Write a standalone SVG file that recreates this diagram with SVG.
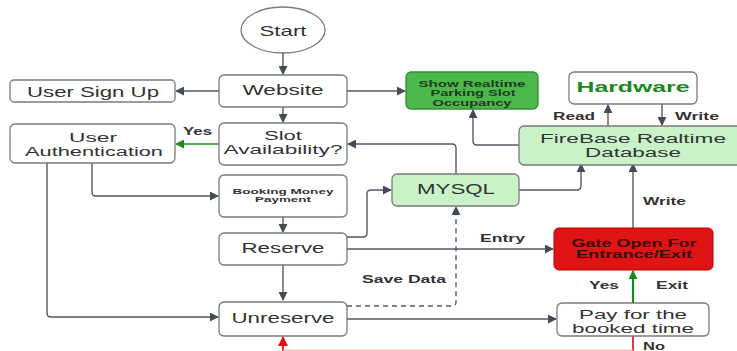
<svg xmlns="http://www.w3.org/2000/svg" width="737" height="351" viewBox="0 0 737 351">
<style>
.box{fill:#fff;stroke:#7a7a7a;stroke-width:1.3}
.lg{fill:#c9f2c9;stroke:#7a7a7a;stroke-width:1.3}
.t{font-family:"Liberation Sans",Arial,sans-serif;fill:#333;text-anchor:middle}
.n{font-size:14.5px}
.m{font-size:12.5px}
.b{font-weight:bold}
.c{fill:none;stroke:#545866;stroke-width:1.4}
.lbl{font-family:"Liberation Sans",Arial,sans-serif;font-weight:bold;font-size:10.5px;fill:#333}
</style>
<defs>
<marker id="a" viewBox="0 0 10 10" refX="9" refY="5" markerWidth="9" markerHeight="9" markerUnits="userSpaceOnUse" orient="auto"><path d="M0,0 L10,5 L0,10 z" fill="#454a58"/></marker>
<marker id="ag" viewBox="0 0 10 10" refX="9" refY="5" markerWidth="9" markerHeight="9" markerUnits="userSpaceOnUse" orient="auto"><path d="M0,0 L10,5 L0,10 z" fill="#1a8a1a"/></marker>
<marker id="ar" viewBox="0 0 10 10" refX="9" refY="5" markerWidth="10" markerHeight="10" markerUnits="userSpaceOnUse" orient="auto"><path d="M0,0 L10,5 L0,10 z" fill="#e01010"/></marker>
</defs>
<rect width="737" height="351" fill="#fff"/>
<g id="connectors">
<path class="c" d="M283,53 V74" marker-end="url(#a)"/>
<path class="c" d="M219,91 H176" marker-end="url(#a)"/>
<path class="c" d="M347,91 H405" marker-end="url(#a)"/>
<path class="c" d="M283,107 V122" marker-end="url(#a)"/>
<path d="M219,144 H176" fill="none" stroke="#1a8a1a" stroke-width="1.6" marker-end="url(#ag)"/>
<path class="c" d="M47,163 V313 Q47,317 51,317 H218" marker-end="url(#a)"/>
<path class="c" d="M92,163 V192 Q92,196 96,196 H218" marker-end="url(#a)"/>
<path class="c" d="M283,217 V232" marker-end="url(#a)"/>
<path class="c" d="M283,265 V300" marker-end="url(#a)"/>
<path class="c" d="M347,237 H363 Q367,237 367,233 V194 Q367,190 371,190 H391" marker-end="url(#a)"/>
<path class="c" d="M347,249 H553" marker-end="url(#a)"/>
<path class="c" d="M347,319 H556" marker-end="url(#a)"/>
<path class="c" d="M347,306 H452 Q456,306 456,302 V207" stroke-dasharray="5,4" marker-end="url(#a)"/>
<path class="c" d="M456,174 V148 Q456,144 452,144 H348" marker-end="url(#a)"/>
<path class="c" d="M519,190 H577 Q581,190 581,186 V164" marker-end="url(#a)"/>
<path class="c" d="M633,228 V164" marker-end="url(#a)"/>
<path d="M633,303 V271" fill="none" stroke="#1a8a1a" stroke-width="2.2" marker-end="url(#ag)"/>
<path class="c" d="M519,145 H477 Q473,145 473,141 V110" marker-end="url(#a)"/>
<path class="c" d="M608,126 V105" marker-end="url(#a)"/>
<path class="c" d="M662,104 V125" marker-end="url(#a)"/>
<path d="M633,336 V351" fill="none" stroke="#cc1010" stroke-width="1.6"/>
<path d="M283,351 V337" fill="none" stroke="#e01010" stroke-width="1.8" marker-end="url(#ar)"/>
<path d="M283,350.5 H633" fill="none" stroke="#f4b8a8" stroke-width="1.5"/>
</g>
<g id="labels">
<text class="lbl" x="183" y="135" textLength="29" lengthAdjust="spacingAndGlyphs">Yes</text>
<text class="lbl" x="480" y="242" textLength="45" lengthAdjust="spacingAndGlyphs">Entry</text>
<text class="lbl" x="362" y="283" textLength="84" lengthAdjust="spacingAndGlyphs">Save Data</text>
<text class="lbl" x="589" y="289" textLength="30" lengthAdjust="spacingAndGlyphs">Yes</text>
<text class="lbl" x="656" y="289" textLength="32" lengthAdjust="spacingAndGlyphs">Exit</text>
<text class="lbl" x="643" y="205" textLength="43" lengthAdjust="spacingAndGlyphs">Write</text>
<text class="lbl" x="553" y="120" textLength="42" lengthAdjust="spacingAndGlyphs">Read</text>
<text class="lbl" x="675" y="120" textLength="44" lengthAdjust="spacingAndGlyphs">Write</text>
<text class="lbl" x="643" y="350" textLength="22" lengthAdjust="spacingAndGlyphs">No</text>
</g>
<g id="start"><ellipse cx="283" cy="30" rx="42" ry="23" class="box"/><text class="t n" x="283" y="36" textLength="47" lengthAdjust="spacingAndGlyphs">Start</text></g>
<g id="website"><rect x="219" y="75" width="128" height="32" rx="5" class="box"/><text class="t n" x="283" y="95" textLength="81" lengthAdjust="spacingAndGlyphs">Website</text></g>
<g id="signup"><rect x="10" y="80" width="165" height="22" rx="4" class="box"/><text class="t n" x="93" y="97" textLength="132" lengthAdjust="spacingAndGlyphs">User Sign Up</text></g>
<g id="slot"><rect x="219" y="123" width="128" height="42" rx="5" class="box"/><text class="t m" x="283" y="140" textLength="38" lengthAdjust="spacingAndGlyphs">Slot</text><text class="t m" x="283" y="154" textLength="119" lengthAdjust="spacingAndGlyphs">Availability?</text></g>
<g id="auth"><rect x="10" y="124" width="165" height="39" rx="5" class="box"/><text class="t m" x="93" y="142" textLength="48" lengthAdjust="spacingAndGlyphs">User</text><text class="t m" x="94" y="156" textLength="138" lengthAdjust="spacingAndGlyphs">Authentication</text></g>
<g id="booking"><rect x="219" y="175" width="128" height="42" rx="5" class="box"/><text class="t b" x="283" y="194" font-size="7.5" textLength="101" lengthAdjust="spacingAndGlyphs">Booking Money</text><text class="t b" x="283" y="202" font-size="7.5" textLength="56" lengthAdjust="spacingAndGlyphs">Payment</text></g>
<g id="reserve"><rect x="219" y="233" width="128" height="32" rx="5" class="box"/><text class="t n" x="283" y="253" textLength="83" lengthAdjust="spacingAndGlyphs">Reserve</text></g>
<g id="unreserve"><rect x="219" y="302" width="128" height="34" rx="5" class="box"/><text class="t n" x="283" y="323" textLength="103" lengthAdjust="spacingAndGlyphs">Unreserve</text></g>
<g id="mysql"><rect x="392" y="174" width="127" height="32" rx="5" class="lg"/><text class="t n" x="456" y="194" textLength="78" lengthAdjust="spacingAndGlyphs">MYSQL</text></g>
<g id="show"><rect x="406" y="72" width="132" height="37" rx="5" fill="#4cb84c" stroke="#3a8a3a" stroke-width="1.3"/><text class="t b" x="472" y="87" font-size="8.5" style="fill:#1e3a1e" textLength="107" lengthAdjust="spacingAndGlyphs">Show Realtime</text><text class="t b" x="473" y="96" font-size="8.5" style="fill:#1e3a1e" textLength="85" lengthAdjust="spacingAndGlyphs">Parking Slot</text><text class="t b" x="472" y="106" font-size="8.5" style="fill:#1e3a1e" textLength="79" lengthAdjust="spacingAndGlyphs">Occupancy</text></g>
<g id="hardware"><rect x="569" y="72" width="128" height="32" rx="5" class="box"/><text class="t b" x="633" y="92" font-size="15.5" style="fill:#1a8a1a" textLength="113" lengthAdjust="spacingAndGlyphs">Hardware</text></g>
<g id="firebase"><rect x="519" y="126" width="230" height="39" rx="5" class="lg"/><text class="t m" x="633" y="143" textLength="186" lengthAdjust="spacingAndGlyphs">FireBase Realtime</text><text class="t m" x="633" y="157" textLength="96" lengthAdjust="spacingAndGlyphs">Database</text></g>
<g id="gate"><rect x="554" y="228" width="159" height="42" rx="5" fill="#e01414" stroke="#b00" stroke-width="1"/><text class="t b" x="634" y="247" font-size="10" style="fill:#3a0606" textLength="125" lengthAdjust="spacingAndGlyphs">Gate Open For</text><text class="t b" x="634" y="258" font-size="10" style="fill:#3a0606" textLength="116" lengthAdjust="spacingAndGlyphs">Entrance/Exit</text></g>
<g id="pay"><rect x="557" y="303" width="152" height="33" rx="5" class="box"/><text class="t m" x="633" y="319" textLength="108" lengthAdjust="spacingAndGlyphs">Pay for the</text><text class="t m" x="633" y="333" textLength="122" lengthAdjust="spacingAndGlyphs">booked time</text></g>
</svg>
